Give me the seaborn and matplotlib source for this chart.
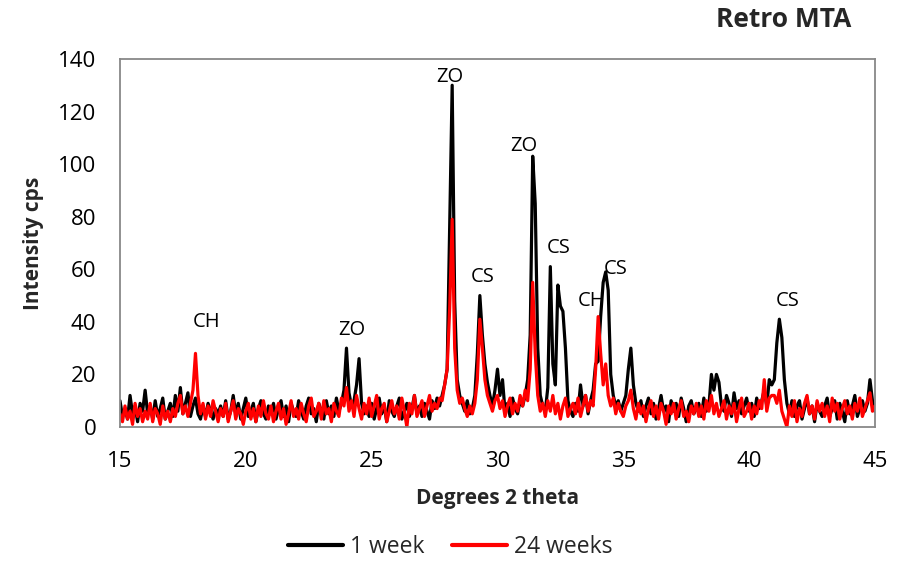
import numpy as np
import pandas as pd
import matplotlib
matplotlib.use("Agg")
import matplotlib.pyplot as plt
import seaborn as sns

# 2-theta scan positions, 15-45 deg in 0.1 deg steps
two_theta = np.round(np.arange(15.0, 45.0001, 0.1), 1)

# Intensity (cps) after 1 week
week1 = [
    10, 4, 7, 3, 12, 5, 8, 2, 9, 6,          # 15
    14, 5, 8, 3, 10, 4, 7, 11, 3, 6,         # 16
    9, 4, 12, 6, 15, 5, 9, 13, 4, 8,         # 17
    11, 5, 3, 8, 4, 9, 6, 3, 7, 5,           # 18
    8, 4, 10, 3, 6, 12, 5, 9, 3, 7,          # 19
    11, 4, 6, 9, 2, 7, 10, 5, 3, 8,          # 20
    5, 9, 3, 7, 10, 4, 8, 2, 9, 6,           # 21
    4, 10, 6, 3, 8, 11, 5, 7, 2, 9,          # 22
    6, 3, 10, 5, 8, 4, 11, 6, 9, 14,         # 23
    30, 13, 8, 10, 16, 26, 9, 5, 8, 4,       # 24
    9, 3, 7, 11, 5, 8, 2, 10, 6, 4,          # 25
    8, 11, 3, 6, 9, 4, 7, 12, 5, 8,          # 26
    4, 9, 6, 3, 10, 7, 11, 8, 12, 16,        # 27
    22, 75, 130, 48, 18, 12, 9, 6, 10, 5,    # 28
    7, 12, 28, 50, 35, 24, 17, 12, 8, 14,    # 29
    22, 12, 18, 6, 9, 4, 11, 7, 5, 10,       # 30
    8, 12, 18, 35, 103, 85, 30, 12, 8, 6,    # 31
    15, 61, 24, 16, 54, 46, 44, 30, 10, 6,   # 32
    4, 9, 6, 16, 8, 12, 5, 10, 14, 24,       # 33
    25, 42, 55, 59, 52, 20, 12, 8, 10, 6,    # 34
    9, 12, 22, 30, 16, 9, 6, 10, 4, 8,       # 35
    11, 5, 9, 3, 7, 12, 6, 8, 2, 10,         # 36
    6, 9, 4, 11, 7, 2, 8, 10, 5, 7,          # 37
    9, 4, 11, 6, 8, 20, 14, 20, 17, 8,       # 38
    6, 12, 9, 4, 13, 7, 10, 5, 8, 11,        # 39
    6, 9, 4, 11, 7, 10, 14, 8, 18, 16,       # 40
    18, 32, 41, 34, 18, 9, 5, 10, 4, 8,      # 41
    10, 3, 7, 11, 5, 8, 2, 9, 6, 4,          # 42
    8, 11, 4, 7, 10, 3, 9, 6, 2, 10,         # 43
    5, 8, 12, 4, 7, 10, 6, 9, 18, 10,        # 44
    6,                                       # 45
]

# Intensity (cps) after 24 weeks
week24 = [
    5, 2, 8, 3, 6, 1, 9, 4, 7, 2,            # 15
    6, 3, 9, 2, 7, 5, 1, 8, 3, 6,            # 16
    2, 7, 4, 9, 12, 5, 8, 4, 9, 14,          # 17
    28, 12, 5, 9, 3, 8, 4, 10, 6, 2,         # 18
    7, 4, 9, 2, 6, 10, 3, 7, 5, 1,           # 19
    6, 9, 3, 7, 2, 8, 4, 10, 5, 3,           # 20
    8, 2, 6, 9, 3, 7, 1, 5, 10, 4,           # 21
    7, 3, 9, 5, 2, 8, 11, 4, 6, 9,           # 22
    3, 10, 5, 7, 2, 9, 6, 4, 11, 8,          # 23
    15, 6, 10, 4, 12, 7, 3, 9, 5, 11,        # 24
    4, 8, 12, 3, 7, 9, 2, 6, 10, 5,          # 25
    8, 3, 11, 6, 0, 9, 5, 12, 4, 7,          # 26
    10, 4, 8, 12, 6, 9, 7, 11, 10, 16,       # 27
    22, 45, 79, 30, 14, 9, 11, 7, 4, 8,      # 28
    5, 9, 18, 41, 30, 18, 12, 9, 6, 10,      # 29
    12, 7, 10, 4, 8, 11, 5, 9, 6, 12,        # 30
    8, 14, 10, 22, 55, 28, 12, 6, 9, 4,      # 31
    10, 6, 12, 5, 9, 3, 8, 11, 4, 7,         # 32
    9, 5, 11, 4, 8, 12, 6, 10, 8, 22,        # 33
    42, 28, 16, 24, 12, 8, 11, 5, 9, 6,      # 34
    4, 8, 10, 14, 7, 3, 9, 5, 8, 2,          # 35
    7, 10, 4, 8, 3, 9, 6, 1, 8, 5,           # 36
    9, 3, 7, 10, 4, 6, 2, 8, 5, 9,           # 37
    4, 8, 3, 10, 6, 12, 5, 9, 4, 7,          # 38
    10, 3, 8, 5, 9, 2, 7, 11, 4, 6,          # 39
    9, 3, 8, 5, 10, 7, 18, 6, 11, 12,        # 40
    12, 9, 14, 6, 3, 0, 8, 4, 10, 2,         # 41
    7, 4, 9, 12, 5, 8, 3, 10, 6, 9,          # 42
    4, 8, 2, 11, 6, 9, 3, 7, 10, 5,          # 43
    8, 3, 9, 6, 11, 4, 7, 10, 13, 6,         # 44
    8,                                       # 45
]

series_names = ["1 week", "24 weeks"]
series_colors = ["#000000", "#ff0000"]

# Phase labels: text, 2-theta, intensity
phase_labels = ["CH", "ZO", "ZO", "CS", "ZO", "CS", "CH", "CS", "CS"]
label_x = [18.45, 24.2, 28.1, 29.4, 31.05, 32.45, 33.75, 34.7, 41.55]
label_y = [40, 37, 133, 57, 107, 68, 48, 60, 48]

df = pd.DataFrame({
    "two_theta": np.concatenate([two_theta, two_theta]),
    "intensity": np.concatenate([week1, week24]),
    "series": [series_names[0]] * len(two_theta) + [series_names[1]] * len(two_theta),
})

sns.set_style("white")
plt.rcParams["font.family"] = ["Open Sans", "DejaVu Sans"]

fig = plt.figure(figsize=(9.0, 5.63), dpi=100)
ax = fig.add_axes([0.1333, 0.2416, 0.8389, 0.6536])

sns.lineplot(data=df, x="two_theta", y="intensity", hue="series",
             palette=dict(zip(series_names, series_colors)),
             linewidth=2.3, ax=ax, legend=False, estimator=None, sort=False)

ax.set_xlim(15, 45)
ax.set_ylim(0, 140)
ax.set_xticks(np.arange(15, 46, 5))
ax.set_yticks(np.arange(0, 141, 20))
ax.tick_params(axis="both", labelsize=16, length=0, pad=17, colors="#000000")
for sp in ax.spines.values():
    sp.set_color("#888888")
    sp.set_linewidth(1.3)

ax.set_xlabel("Degrees 2 theta", fontsize=15, fontweight="bold", labelpad=12)
ax.set_ylabel("Intensity cps", fontsize=15, fontweight="bold", labelpad=10)

for t, xv, yv in zip(phase_labels, label_x, label_y):
    ax.text(xv, yv, t, fontsize=14.5, ha="center", va="center", color="#000000")

fig.text(0.946, 0.9645, "Retro MTA", fontsize=19, fontweight="bold",
         ha="right", va="center")

handles = [plt.Line2D([0], [0], color=c, linewidth=3) for c in series_colors]
fig.legend(handles, series_names, loc="center", bbox_to_anchor=(0.5, 0.028),
           ncol=2, frameon=False, fontsize=16.5, handlelength=2.4,
           columnspacing=1.2, handletextpad=0.3)

fig.savefig("out.png", dpi=100)
